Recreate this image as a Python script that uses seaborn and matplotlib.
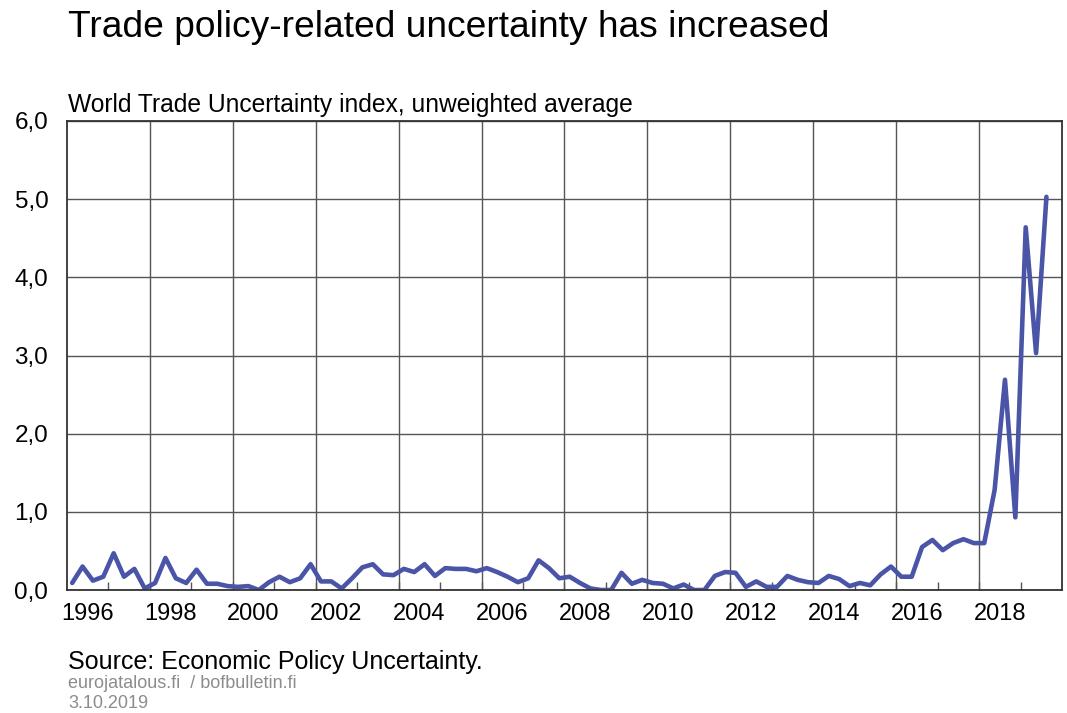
import numpy as np
import pandas as pd
import matplotlib.pyplot as plt
import seaborn as sns

# Quarterly World Trade Uncertainty index, 1996Q1 - 2019Q3
years = list(range(1996, 2020))
values = [
    0.09, 0.30, 0.12, 0.17,   # 1996
    0.47, 0.17, 0.27, 0.02,   # 1997
    0.09, 0.41, 0.15, 0.09,   # 1998
    0.26, 0.08, 0.08, 0.05,   # 1999
    0.04, 0.05, 0.00, 0.10,   # 2000
    0.17, 0.10, 0.15, 0.33,   # 2001
    0.11, 0.11, 0.02, 0.15,   # 2002
    0.29, 0.33, 0.20, 0.19,   # 2003
    0.27, 0.23, 0.33, 0.18,   # 2004
    0.28, 0.27, 0.27, 0.24,   # 2005
    0.28, 0.23, 0.17, 0.10,   # 2006
    0.15, 0.38, 0.28, 0.15,   # 2007
    0.17, 0.09, 0.02, 0.00,   # 2008
    0.00, 0.22, 0.08, 0.13,   # 2009
    0.09, 0.08, 0.02, 0.07,   # 2010
    0.00, 0.00, 0.18, 0.23,   # 2011
    0.22, 0.04, 0.11, 0.04,   # 2012
    0.04, 0.18, 0.13, 0.10,   # 2013
    0.09, 0.18, 0.14, 0.05,   # 2014
    0.09, 0.06, 0.20, 0.30,   # 2015
    0.17, 0.17, 0.55, 0.64,   # 2016
    0.51, 0.60, 0.65, 0.60,   # 2017
    0.60, 1.28, 2.69, 0.93,   # 2018
    4.64, 3.03, 5.03,         # 2019
]
year_labels = [str(y) for y in range(1996, 2020, 2)]
y_ticks = [0, 1, 2, 3, 4, 5, 6]

df = pd.DataFrame({"value": values})
df["year"] = [years[i // 4] for i in range(len(values))]
df["quarter"] = [i % 4 + 1 for i in range(len(values))]
df["t"] = df["year"] + (df["quarter"] - 0.5) / 4

sns.set_style("white")
plt.rcParams["font.family"] = ["Liberation Sans", "DejaVu Sans"]
plt.rcParams["text.color"] = "black"
plt.rcParams["xtick.color"] = "black"
plt.rcParams["ytick.color"] = "black"

fig = plt.figure(figsize=(10.67, 7.13), dpi=100)
ax = fig.add_axes([0.0628, 0.1725, 0.9325, 0.6578])

line_color = "#4a55a8"
sns.lineplot(data=df, x="t", y="value", ax=ax, color=line_color, linewidth=3.3)

ax.set_xlim(1996, 2020)
ax.set_ylim(0, 6)

# vertical grid every two years
for yr in range(1998, 2020, 2):
    ax.axvline(yr, color="#555555", linewidth=1.0, zorder=0)
ax.set_yticks(y_ticks)
ax.set_yticklabels([f"{v:.1f}".replace(".", ",") for v in y_ticks])
ax.yaxis.grid(True, color="#555555", linewidth=1.0)
ax.set_axisbelow(True)

ax.set_xticks([int(l) + 0.5 for l in year_labels])
ax.set_xticklabels(year_labels)
ax.set_xticks(range(1997, 2020), minor=True)
ax.tick_params(axis="x", which="major", length=0, pad=9, labelsize=17)
ax.tick_params(axis="x", which="minor", bottom=True, direction="in",
               length=6, width=1, color="#555555")
ax.tick_params(axis="y", length=0, pad=13.5, labelsize=17.5)

for s in ax.spines.values():
    s.set_color("#333333")
    s.set_linewidth(1.3)

ax.set_xlabel("")
ax.set_ylabel("")

fig.text(0.064, 0.962, "Trade policy-related uncertainty has increased",
         fontsize=26.7, va="center", ha="left")
fig.text(0.064, 0.853, "World Trade Uncertainty index, unweighted average",
         fontsize=17.7, va="center", ha="left")
fig.text(0.064, 0.072, "Source: Economic Policy Uncertainty.",
         fontsize=18, va="center", ha="left")
fig.text(0.064, 0.041, "eurojatalous.fi  / bofbulletin.fi",
         fontsize=13, va="center", ha="left", color="#8c8c8c")
fig.text(0.064, 0.013, "3.10.2019",
         fontsize=13, va="center", ha="left", color="#8c8c8c")

fig.savefig("out.png", dpi=100)
